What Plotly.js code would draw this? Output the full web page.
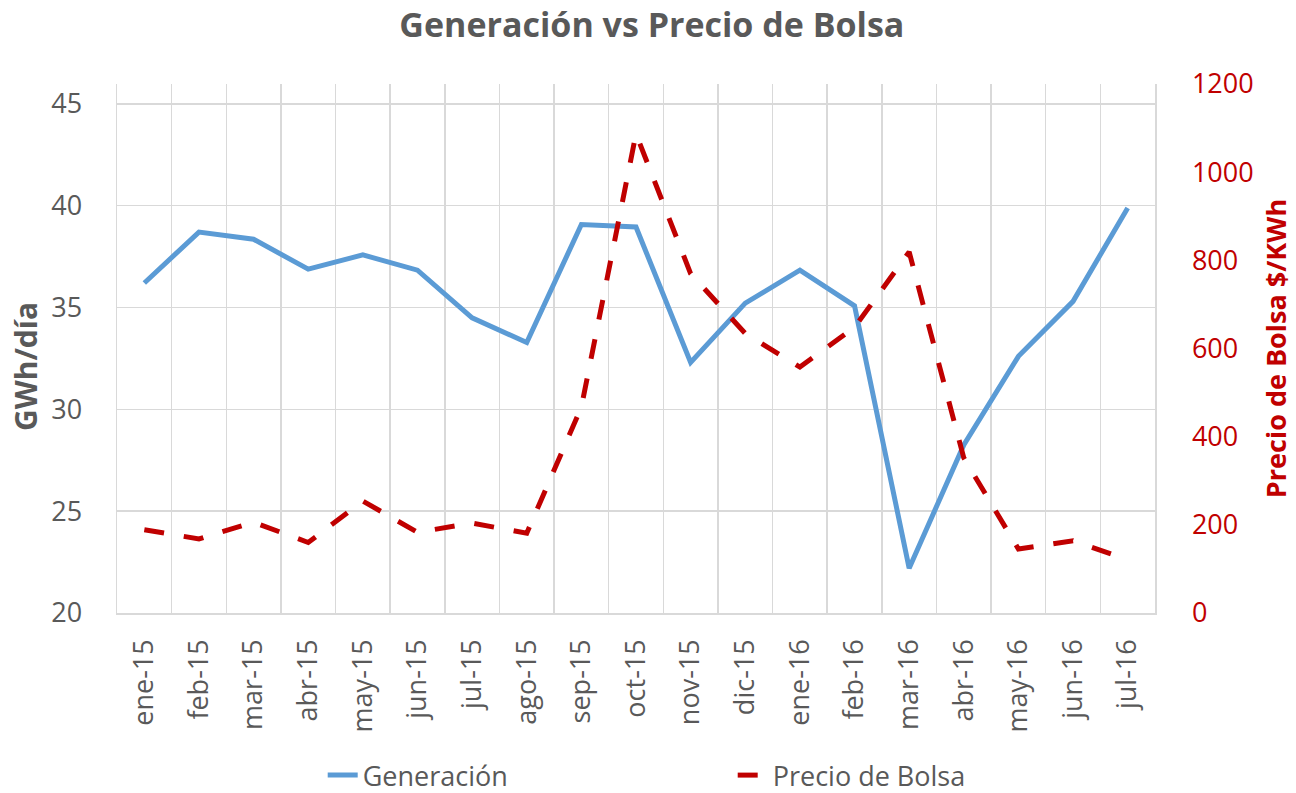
<!DOCTYPE html>
<html>
<head>
<meta charset="utf-8">
<script src="https://cdn.plot.ly/plotly-3.0.1.min.js"></script>
<style>html,body{margin:0;padding:0;background:#fff;}#chart{width:1296px;height:793px;}</style>
</head>
<body>
<div id="chart"></div>
<script>
const months = ["ene-15","feb-15","mar-15","abr-15","may-15","jun-15","jul-15","ago-15","sep-15","oct-15","nov-15","dic-15","ene-16","feb-16","mar-16","abr-16","may-16","jun-16","jul-16"];
const generacion = [36.2, 38.7, 38.35, 36.88, 37.58, 36.83, 34.49, 33.28, 39.07, 38.95, 32.3, 35.21, 36.83, 35.08, 22.2, 28.25, 32.6, 35.3, 39.88];
const precioBolsa = [189, 168, 206, 160, 254, 183, 204, 181, 467, 1087, 770, 634, 558, 648, 819, 352, 145, 164, 121];

const FONT = "Open Sans, sans-serif";
const GREY = "#595959";
const RED = "#c00000";
const GRID = "#d9d9d9";

const traces = [
  {x: months, y: generacion, name: "Generación", type: "scatter", mode: "lines",
   line: {color: "#5b9bd5", width: 5}, yaxis: "y"},
  {x: months, y: precioBolsa, name: "Precio de Bolsa", type: "scatter", mode: "lines",
   line: {color: RED, width: 5, dash: "20px,20px"}, yaxis: "y2"}
];

const layout = {
  width: 1296, height: 793,
  margin: {l: 117, r: 141, t: 84, b: 180},
  paper_bgcolor: "#fff", plot_bgcolor: "#fff",
  font: {family: FONT, color: GREY},
  title: {text: "<b>Generación vs Precio de Bolsa</b>", font: {family: FONT, size: 34, color: GREY},
          x: 0.503, xref: "container", xanchor: "center", y: 0.968, yref: "container", yanchor: "middle"},
  xaxis: {type: "category", categoryorder: "array", categoryarray: months, range: [-0.5, 18.5],
          tickson: "boundaries", ticks: "", tickangle: -90, ticklabelstandoff: 14,
          tickfont: {family: FONT, size: 27, color: GREY},
          showgrid: true, gridcolor: GRID, gridwidth: 1.5,
          showline: true, linecolor: GRID, linewidth: 1.5, zeroline: false, fixedrange: true},
  yaxis: {range: [20, 45.97], tick0: 20, dtick: 5, ticks: "", ticklabelstandoff: 28,
          tickfont: {family: FONT, size: 27, color: GREY},
          showgrid: true, gridcolor: GRID, gridwidth: 1.5,
          showline: true, linecolor: GRID, linewidth: 1.5, zeroline: false},
  yaxis2: {range: [0, 1200], tick0: 0, dtick: 200, overlaying: "y", side: "right",
           ticks: "", ticklabelstandoff: 30,
           tickfont: {family: FONT, size: 27, color: RED},
           showgrid: false, showline: true, linecolor: GRID, linewidth: 1.5, zeroline: false,
           title: {text: "<b>Precio de Bolsa $/KWh</b>", font: {family: FONT, size: 27, color: RED}, standoff: 14}},
  annotations: [
    {text: "<b>GWh/día</b>", textangle: -90, xref: "paper", yref: "paper",
     x: -0.0886, y: 0.465, xanchor: "center", yanchor: "middle", showarrow: false,
     font: {family: FONT, size: 30, color: GREY}}
  ],
  showlegend: true,
  legend: {orientation: "h", xref: "container", yref: "container", x: 0.249, xanchor: "left",
           y: 0.022, yanchor: "middle", font: {family: FONT, size: 27, color: GREY},
           entrywidth: 365, entrywidthmode: "pixels", bgcolor: "rgba(0,0,0,0)"}
};

Plotly.newPlot("chart", traces, layout, {displayModeBar: false, staticPlot: true});
</script>
</body>
</html>
